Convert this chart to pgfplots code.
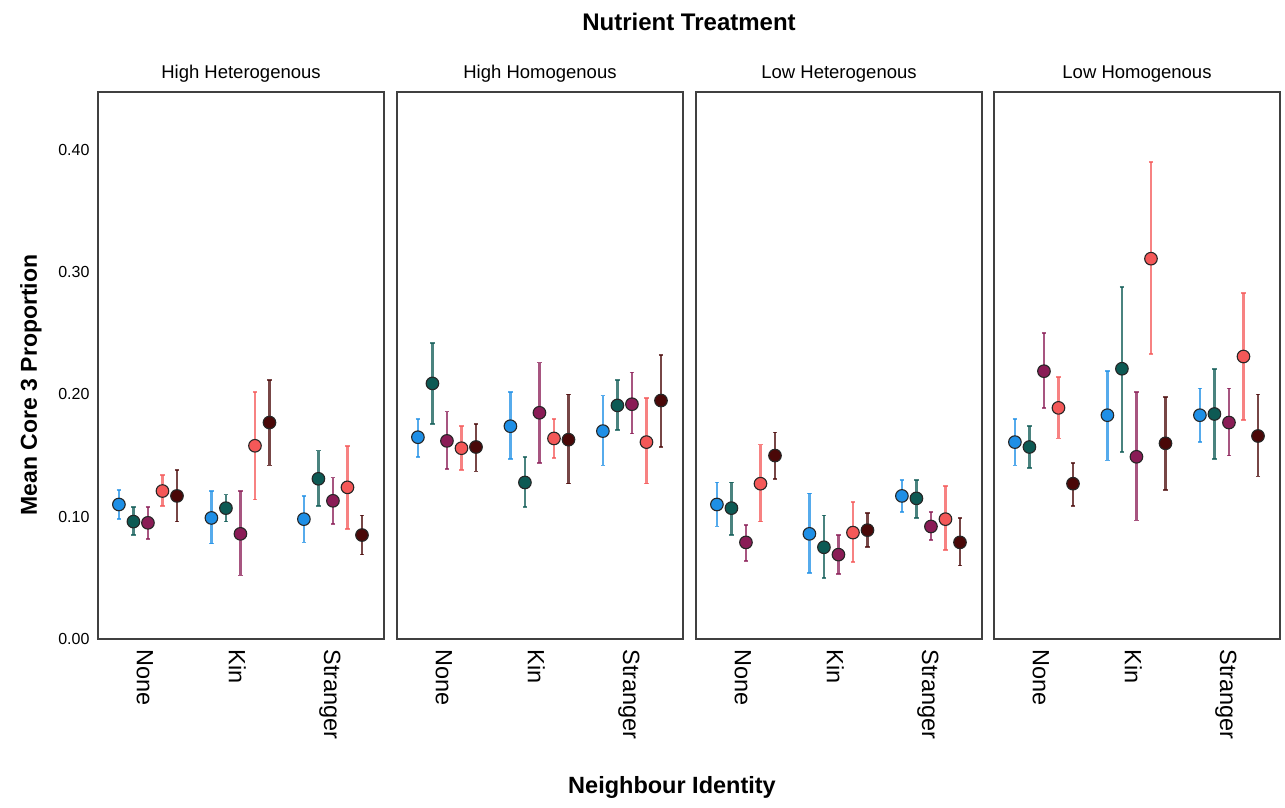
\documentclass[border=0pt]{standalone}
\usepackage{pgfplots}
\pgfplotsset{compat=1.18}
\usepackage{pgfplotstable}
\usepackage{fontspec}
\setmainfont{Liberation Sans}

\definecolor{cB}{HTML}{1E8FE6}
\definecolor{cT}{HTML}{0D5A54}
\definecolor{cM}{HTML}{8A1C56}
\definecolor{cR}{HTML}{F45858}
\definecolor{cD}{HTML}{4A0808}

% cat, blue (y, hi, lo), teal, magenta, red, maroon
\pgfplotstableread{
cat b bh bl t th tl m mh ml r rh rl d dh dl
0 0.110 0.122 0.098 0.096 0.108 0.085 0.095 0.108 0.082 0.121 0.134 0.109 0.117 0.138 0.096
1 0.099 0.121 0.078 0.107 0.118 0.096 0.086 0.121 0.052 0.158 0.202 0.114 0.177 0.212 0.142
2 0.098 0.117 0.079 0.131 0.154 0.109 0.113 0.132 0.094 0.124 0.158 0.090 0.085 0.101 0.069
}\tabHHe
\pgfplotstableread{
cat b bh bl t th tl m mh ml r rh rl d dh dl
0 0.165 0.180 0.149 0.209 0.242 0.176 0.162 0.186 0.139 0.156 0.174 0.138 0.157 0.176 0.137
1 0.174 0.202 0.147 0.128 0.149 0.108 0.185 0.226 0.144 0.164 0.180 0.148 0.163 0.200 0.127
2 0.170 0.199 0.142 0.191 0.212 0.171 0.192 0.218 0.168 0.161 0.197 0.127 0.195 0.232 0.157
}\tabHHo
\pgfplotstableread{
cat b bh bl t th tl m mh ml r rh rl d dh dl
0 0.110 0.128 0.092 0.107 0.128 0.085 0.079 0.093 0.064 0.127 0.159 0.096 0.150 0.169 0.131
1 0.086 0.119 0.054 0.075 0.101 0.050 0.069 0.085 0.053 0.087 0.112 0.063 0.089 0.103 0.075
2 0.117 0.130 0.104 0.115 0.130 0.099 0.092 0.104 0.081 0.098 0.125 0.073 0.079 0.099 0.060
}\tabLHe
\pgfplotstableread{
cat b bh bl t th tl m mh ml r rh rl d dh dl
0 0.161 0.180 0.142 0.157 0.174 0.140 0.219 0.250 0.189 0.189 0.214 0.164 0.127 0.144 0.109
1 0.183 0.219 0.146 0.221 0.288 0.153 0.149 0.202 0.097 0.311 0.390 0.233 0.160 0.198 0.122
2 0.183 0.205 0.161 0.184 0.221 0.147 0.177 0.205 0.150 0.231 0.283 0.179 0.166 0.200 0.133
}\tabLHo

\pgfplotsset{
  panel/.style={
    width=286pt, height=547pt, scale only axis,
    xmin=-0.54, xmax=2.552, ymin=0, ymax=0.4473,
    xtick={0,1,2}, xticklabels={None,Kin,Stranger},
    xticklabel style={rotate=-90, anchor=west, font=\fontsize{23.5}{26}\selectfont, xshift=7pt, yshift=-3pt},
    ytick={0,0.1,0.2,0.3,0.4},
    yticklabel style={font=\fontsize{16}{19}\selectfont, xshift=-5pt, /pgf/number format/.cd, fixed, fixed zerofill, precision=2, assume math mode=true},
    major tick length=0pt,
    axis line style={black!75, line width=1.3pt},
    title style={font=\fontsize{18.5}{22}\selectfont, at={(0.5,1)}, anchor=south, yshift=0pt},
    anchor=south west, clip=false,
  },
  ser/.style={
    only marks, mark=*, mark size=6.3pt,
    mark options={draw=black!85, line width=1.1pt, fill=#1},
    error bars/.cd, y dir=both, y explicit,
      error bar style={draw=#1, draw opacity=0.75, line width=2.3pt},
      error mark options={draw=#1, draw opacity=0.75, line width=1.6pt, mark size=2.2pt, rotate=90},
  },
}

\newcommand{\off}{0.157}
\newcommand{\drawseries}[1]{%
  \addplot[ser=cB] table[x expr=\thisrow{cat}-2*\off, y=b, y error plus expr=\thisrow{bh}-\thisrow{b}, y error minus expr=\thisrow{b}-\thisrow{bl}] {#1};
  \addplot[ser=cT] table[x expr=\thisrow{cat}-\off, y=t, y error plus expr=\thisrow{th}-\thisrow{t}, y error minus expr=\thisrow{t}-\thisrow{tl}] {#1};
  \addplot[ser=cM] table[x expr=\thisrow{cat}, y=m, y error plus expr=\thisrow{mh}-\thisrow{m}, y error minus expr=\thisrow{m}-\thisrow{ml}] {#1};
  \addplot[ser=cR] table[x expr=\thisrow{cat}+\off, y=r, y error plus expr=\thisrow{rh}-\thisrow{r}, y error minus expr=\thisrow{r}-\thisrow{rl}] {#1};
  \addplot[ser=cD] table[x expr=\thisrow{cat}+2*\off, y=d, y error plus expr=\thisrow{dh}-\thisrow{d}, y error minus expr=\thisrow{d}-\thisrow{dl}] {#1};
}

\begin{document}
\begin{tikzpicture}
\path[use as bounding box] (-98pt,-169pt) rectangle (1187pt,639pt);

\begin{axis}[panel, at={(0pt,0pt)}, title={High Heterogenous}]
\drawseries{\tabHHe}
\end{axis}
\begin{axis}[panel, at={(299pt,0pt)}, title={High Homogenous}, yticklabels={}]
\drawseries{\tabHHo}
\end{axis}
\begin{axis}[panel, at={(598pt,0pt)}, title={Low Heterogenous}, yticklabels={}]
\drawseries{\tabLHe}
\end{axis}
\begin{axis}[panel, at={(896pt,0pt)}, title={Low Homogenous}, yticklabels={}]
\drawseries{\tabLHo}
\end{axis}

\node[font=\bfseries\fontsize{24}{28}\selectfont] at (591pt,617pt) {Nutrient Treatment};
\node[font=\bfseries\fontsize{23.5}{27}\selectfont] at (574pt,-148pt) {Neighbour Identity};
\node[font=\bfseries\fontsize{23}{27}\selectfont, rotate=90] at (-67pt,254pt) {Mean Core 3 Proportion};
\end{tikzpicture}
\end{document}
